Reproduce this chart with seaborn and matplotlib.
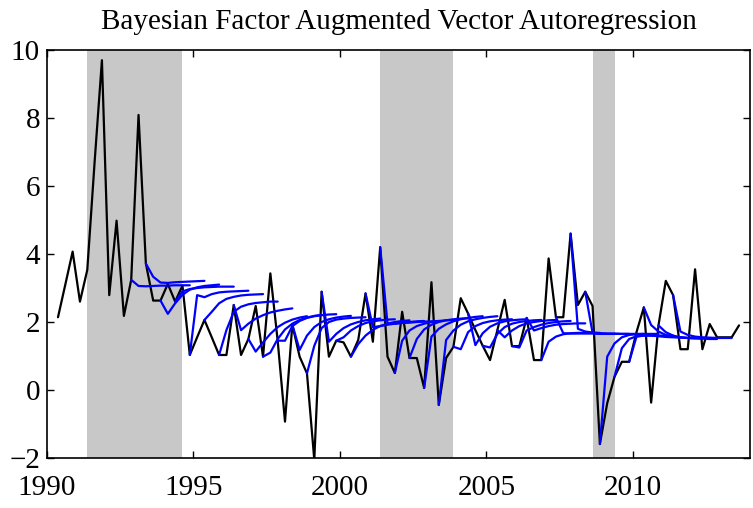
import matplotlib
matplotlib.use("Agg")
import matplotlib.pyplot as plt
import numpy as np
import pandas as pd
import seaborn as sns

# quarterly observed series, first point 1990.375
observed = [2.14, 3.1, 4.07, 2.6, 3.53, 6.7, 9.7, 2.79, 4.98, 2.18,
            3.24, 8.09, 3.72, 2.63, 2.63, 3.12, 2.6, 3.07, 1.03, 1.55,
            2.06, 1.55, 1.03, 1.03, 2.5, 1.03, 1.5, 2.47, 0.98, 3.43,
            1.45, -0.93, 1.92, 0.98, 0.49, -2.05, 2.89, 0.98, 1.45, 1.4,
            0.98, 1.47, 2.84, 1.42, 4.2, 0.98, 0.5, 2.3, 0.94, 0.94,
            0.06, 3.17, -0.44, 0.94, 1.27, 2.7, 2.25, 1.76, 1.3, 0.88,
            1.76, 2.65, 1.29, 1.29, 2.12, 0.88, 0.88, 3.87, 2.14, 2.14,
            4.6, 2.5, 2.89, 2.47, -1.59, -0.39, 0.39, 0.83, 0.83, 1.7,
            2.43, -0.37, 1.9, 3.21, 2.79, 1.2, 1.2, 3.55, 1.2, 1.94,
            1.55, 1.55, 1.55, 1.9]
start = 1990.375

# forecast origins (index into observed) and 8-quarter-ahead paths
fc_origins = list(range(10, 86, 2))
fc_paths = [
    [3.06, 3.05, 3.06, 3.07, 3.07, 3.08, 3.08, 3.08],
    [3.33, 3.16, 3.15, 3.17, 3.18, 3.19, 3.2, 3.21],
    [2.24, 2.55, 2.8, 2.95, 3.02, 3.06, 3.08, 3.1],
    [2.9, 2.97, 3.0, 3.02, 3.03, 3.04, 3.04, 3.04],
    [2.79, 2.73, 2.82, 2.87, 2.89, 2.9, 2.91, 2.92],
    [2.3, 2.55, 2.68, 2.74, 2.78, 2.8, 2.81, 2.82],
    [1.76, 2.3, 2.45, 2.52, 2.56, 2.58, 2.6, 2.6],
    [1.76, 1.95, 2.1, 2.2, 2.28, 2.33, 2.37, 2.4],
    [1.13, 1.4, 1.65, 1.85, 1.98, 2.07, 2.13, 2.17],
    [1.1, 1.5, 1.78, 1.95, 2.06, 2.13, 2.18, 2.21],
    [1.45, 1.88, 2.03, 2.12, 2.17, 2.2, 2.22, 2.23],
    [1.18, 1.6, 1.85, 2.0, 2.08, 2.13, 2.16, 2.18],
    [1.3, 1.82, 2.0, 2.07, 2.1, 2.12, 2.13, 2.14],
    [1.42, 1.65, 1.82, 1.93, 2.0, 2.05, 2.08, 2.1],
    [1.55, 1.75, 1.88, 1.97, 2.02, 2.05, 2.07, 2.08],
    [1.35, 1.6, 1.77, 1.88, 1.95, 2.0, 2.03, 2.05],
    [1.85, 1.88, 1.92, 1.95, 1.98, 2.0, 2.02, 2.03],
    [1.95, 1.95, 1.97, 1.98, 2.0, 2.01, 2.02, 2.03],
    [1.45, 1.75, 1.88, 1.95, 2.0, 2.03, 2.05, 2.06],
    [1.5, 1.78, 1.92, 2.0, 2.05, 2.08, 2.1, 2.11],
    [1.57, 1.8, 1.93, 2.02, 2.08, 2.12, 2.15, 2.17],
    [1.47, 1.75, 1.92, 2.02, 2.08, 2.12, 2.15, 2.17],
    [1.2, 1.7, 1.88, 1.97, 2.02, 2.05, 2.07, 2.08],
    [1.32, 1.67, 1.86, 1.96, 2.02, 2.05, 2.07, 2.08],
    [1.25, 1.65, 1.85, 1.95, 2.0, 2.03, 2.05, 2.06],
    [1.55, 1.75, 1.88, 1.96, 2.0, 2.03, 2.05, 2.06],
    [1.25, 1.75, 1.85, 1.92, 1.97, 2.0, 2.02, 2.03],
    [1.75, 1.82, 1.88, 1.92, 1.94, 1.95, 1.96, 1.96],
    [1.42, 1.57, 1.64, 1.67, 1.68, 1.68, 1.68, 1.68],
    [1.67, 1.66, 1.66, 1.66, 1.66, 1.65, 1.65, 1.65],
    [1.8, 1.72, 1.69, 1.67, 1.66, 1.66, 1.65, 1.65],
    [1.68, 1.66, 1.65, 1.65, 1.65, 1.65, 1.65, 1.65],
    [0.98, 1.37, 1.55, 1.62, 1.64, 1.65, 1.65, 1.65],
    [1.23, 1.5, 1.58, 1.6, 1.6, 1.6, 1.6, 1.6],
    [1.57, 1.6, 1.6, 1.58, 1.56, 1.55, 1.54, 1.53],
    [1.91, 1.72, 1.62, 1.57, 1.55, 1.53, 1.52, 1.52],
    [1.7, 1.6, 1.55, 1.53, 1.52, 1.51, 1.5, 1.5],
    [1.72, 1.62, 1.57, 1.55, 1.54, 1.53, 1.53, 1.53],
]

# shaded periods
shade_start = [1991.375, 2001.375, 2008.625]
shade_end = [1994.625, 2003.875, 2009.375]

dates = start + 0.25 * np.arange(len(observed))
obs_df = pd.DataFrame({"date": dates, "value": observed})

rows = []
for o, path in zip(fc_origins, fc_paths):
    vals = [observed[o]] + path
    for h, v in enumerate(vals):
        rows.append({"origin": o, "date": dates[o] + 0.25 * h, "value": v})
fc_df = pd.DataFrame(rows)

sns.set_style("ticks")
plt.rcParams["font.family"] = ["Liberation Serif", "DejaVu Serif"]

fig = plt.figure(figsize=(7.53, 5.08), dpi=100)
ax = fig.add_axes([47 / 753, 50 / 508, 703 / 753, 408 / 508])

for s, e in zip(shade_start, shade_end):
    ax.axvspan(s, e, color="#c8c8c8", lw=0, zorder=0)

sns.lineplot(data=obs_df, x="date", y="value", color="black", lw=1.6, ax=ax, zorder=2)
sns.lineplot(data=fc_df, x="date", y="value", units="origin", estimator=None,
             sort=False, color="#0000ff", lw=1.6, ax=ax, zorder=3)

ax.set_xlim(1990, 2014)
ax.set_ylim(-2, 10)
ax.set_xticks([1990, 1995, 2000, 2005, 2010])
ax.set_yticks([-2, 0, 2, 4, 6, 8, 10])
ax.set_xlabel("")
ax.set_ylabel("")
ax.tick_params(direction="in", length=5, width=1, top=True, right=True,
               labelsize=21, colors="black")
ax.tick_params(axis="x", pad=12)
ax.tick_params(axis="y", pad=5)
for sp in ax.spines.values():
    sp.set_linewidth(1.2)
    sp.set_color("black")
ax.set_title("Bayesian Factor Augmented Vector Autoregression", fontsize=21,
             color="black", pad=15)

fig.savefig("out.png", dpi=100)
plt.close(fig)
